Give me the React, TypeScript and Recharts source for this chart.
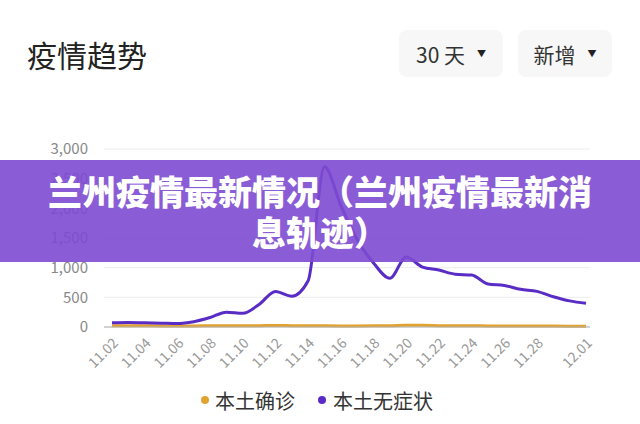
import { CartesianGrid, Line, LineChart, XAxis, YAxis } from "recharts";

const DATES = [
  "11.02", "11.03", "11.04", "11.05", "11.06", "11.07", "11.08", "11.09", "11.10", "11.11",
  "11.12", "11.13", "11.14", "11.15", "11.16", "11.17", "11.18", "11.19", "11.20", "11.21",
  "11.22", "11.23", "11.24", "11.25", "11.26", "11.27", "11.28", "11.29", "11.30", "12.01",
];

const X_TICKS = [
  "11.02", "11.04", "11.06", "11.08", "11.10", "11.12", "11.14", "11.16",
  "11.18", "11.20", "11.22", "11.24", "11.26", "11.28", "12.01",
];

const Y_TICKS = [0, 500, 1000, 1500, 2000, 2500, 3000];

// 本土确诊
const CONFIRMED = [
  20, 22, 20, 18, 16, 18, 20, 22, 20, 22, 25, 22, 20, 20, 18,
  18, 20, 22, 30, 28, 22, 20, 20, 18, 18, 16, 16, 15, 14, 12,
];

// 本土无症状
const ASYMPTOMATIC = [
  70, 75, 70, 65, 60, 90, 160, 250, 230, 380, 600, 520, 780, 2700, 2050,
  1470, 1080, 820, 1180, 1010, 960, 890, 875, 725, 700, 635, 600, 510, 440, 400,
];

const ORANGE = "#e1a22f";
const PURPLE = "#5a2cc6";
const FONT = '"Noto Sans CJK SC", "Noto Sans", sans-serif';

const data = DATES.map((d, i) => ({
  date: d,
  confirmed: CONFIRMED[i],
  asymptomatic: ASYMPTOMATIC[i],
}));

function Dropdown({ left, width, label }: { left: number; width: number; label: string }) {
  return (
    <div
      style={{
        position: "absolute",
        left,
        top: 30,
        width,
        height: 47,
        background: "#f7f7f7",
        borderRadius: 8,
        display: "flex",
        alignItems: "center",
        justifyContent: "center",
        gap: 12,
        fontSize: 21,
        color: "#333",
      }}
    >
      <span>{label}</span>
      <span style={{ fontSize: 9, color: "#222" }}>▼</span>
    </div>
  );
}

export default function App() {
  return (
    <div
      style={{
        position: "relative",
        width: 640,
        height: 424,
        background: "#fff",
        fontFamily: FONT,
        overflow: "hidden",
      }}
    >
      <style>{`body{margin:0}`}</style>

      <div style={{ position: "absolute", left: 27, top: 34, fontSize: 30, color: "#222", lineHeight: "40px" }}>
        疫情趋势
      </div>
      <Dropdown left={399} width={104} label="30 天" />
      <Dropdown left={518} width={94} label="新增" />

      <div style={{ position: "absolute", left: 0, top: 0 }}>
        <LineChart width={640} height={424} data={data} margin={{ top: 149, right: 50, bottom: 47, left: 0 }}>
          <CartesianGrid vertical={false} stroke="#ececec" />
          <XAxis
            dataKey="date"
            ticks={X_TICKS}
            interval={0}
            height={50}
            padding={{ left: 8, right: 4 }}
            axisLine={{ stroke: "#b0b0b0" }}
            tickLine={false}
            tickMargin={4}
            angle={-45}
            textAnchor="end"
            tick={{ fill: "#999", fontSize: 14, fontFamily: FONT }}
          />
          <YAxis
            domain={[0, 3000]}
            ticks={Y_TICKS}
            width={104}
            axisLine={false}
            tickLine={false}
            tickMargin={10}
            tickFormatter={(v: number) => v.toLocaleString("en-US")}
            tick={{ fill: "#888", fontSize: 15, fontFamily: FONT }}
          />
          <Line
            type="monotone"
            dataKey="confirmed"
            stroke={ORANGE}
            strokeWidth={3}
            dot={false}
            isAnimationActive={false}
          />
          <Line
            type="monotone"
            dataKey="asymptomatic"
            stroke={PURPLE}
            strokeWidth={3}
            dot={false}
            isAnimationActive={false}
          />
        </LineChart>
      </div>

      <div
        style={{
          position: "absolute",
          left: 201,
          top: 388,
          height: 24,
          display: "flex",
          alignItems: "center",
          fontSize: 20,
          color: "#333",
        }}
      >
        <span style={{ width: 8, height: 8, borderRadius: 4, background: ORANGE, marginRight: 6 }} />
        <span>本土确诊</span>
        <span style={{ width: 8, height: 8, borderRadius: 4, background: PURPLE, marginLeft: 23, marginRight: 7 }} />
        <span>本土无症状</span>
      </div>

      <div
        style={{
          position: "absolute",
          left: 0,
          top: 160,
          width: 640,
          height: 102,
          background: "rgba(125, 74, 209, 0.9)",
        }}
      >
        <div
          style={{
            width: 560,
            margin: "0 auto",
            paddingTop: 10,
            fontSize: 34,
            lineHeight: "41px",
            fontWeight: 900,
            color: "#fff",
            textAlign: "center",
          }}
        >
          兰州疫情最新情况（兰州疫情最新消息轨迹）
        </div>
      </div>
    </div>
  );
}
